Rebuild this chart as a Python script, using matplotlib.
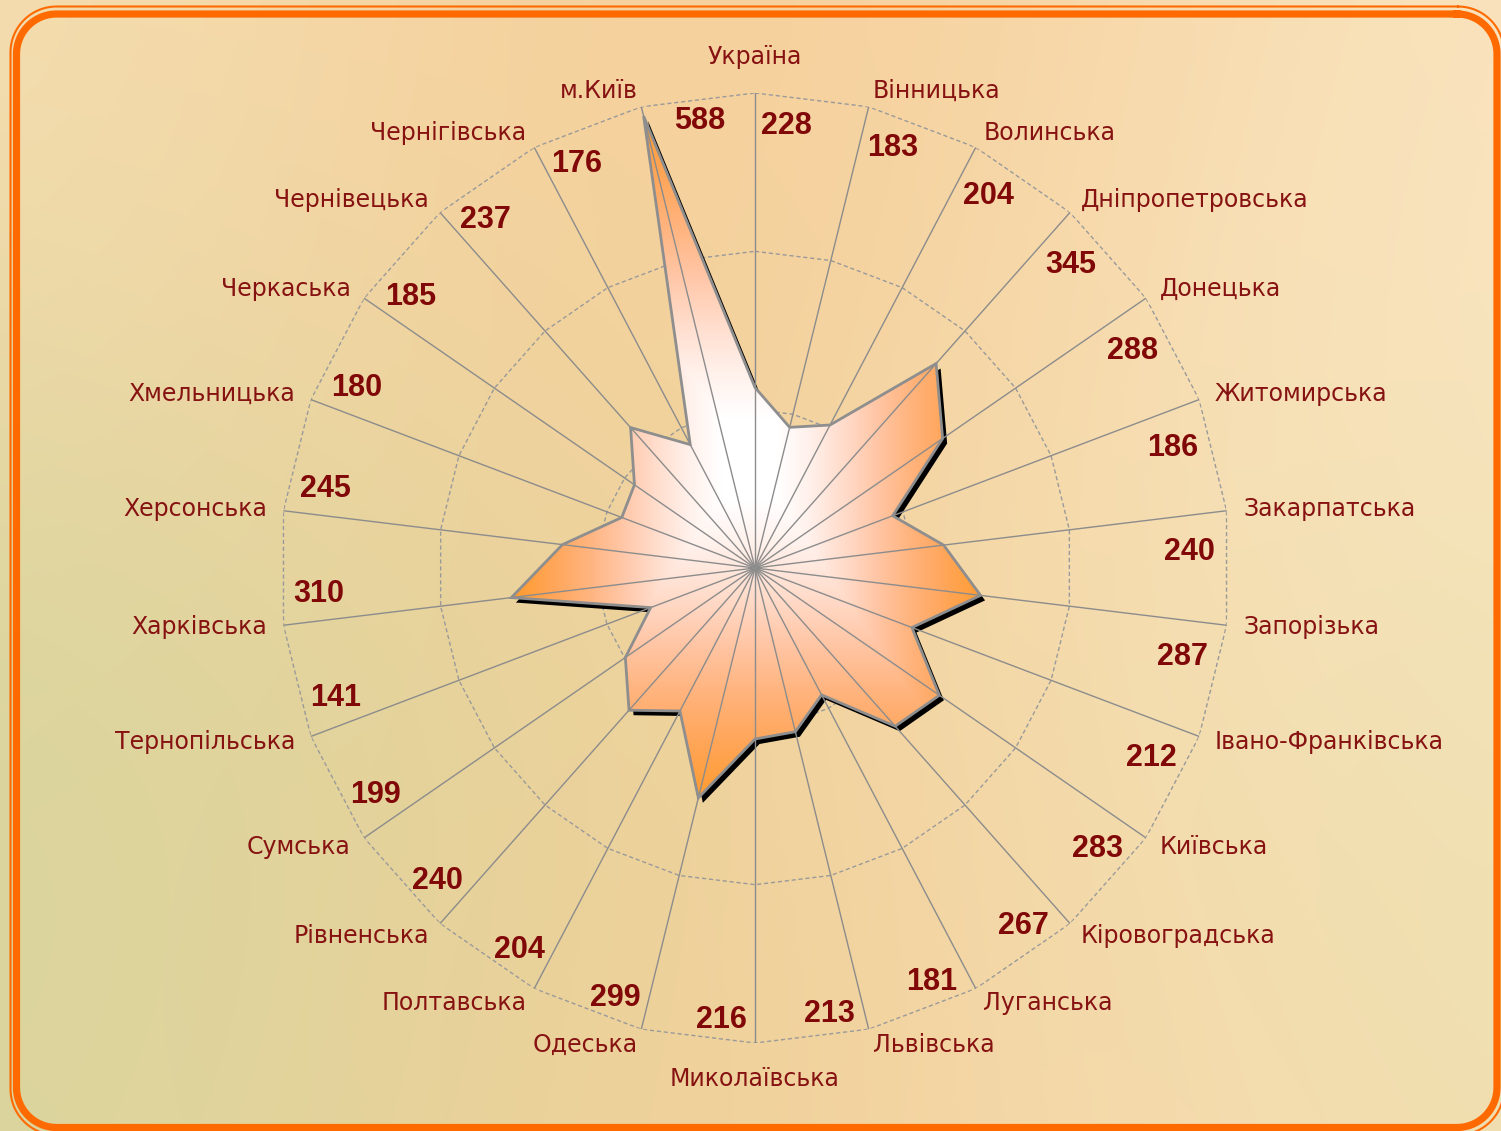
import numpy as np
import matplotlib
matplotlib.use('Agg')
import matplotlib.pyplot as plt
from matplotlib.image import AxesImage
from matplotlib.transforms import ScaledTranslation
from matplotlib.colors import LinearSegmentedColormap

# ---------------- data ----------------
categories = ['Україна', 'Вінницька', 'Волинська', 'Дніпропетровська', 'Донецька',
              'Житомирська', 'Закарпатська', 'Запорізька', 'Івано-Франківська',
              'Київська', 'Кіровоградська', 'Луганська', 'Львівська', 'Миколаївська',
              'Одеська', 'Полтавська', 'Рівненська', 'Сумська', 'Тернопільська',
              'Харківська', 'Херсонська', 'Хмельницька', 'Черкаська', 'Чернівецька',
              'Чернігівська', 'м.Київ']
values = [228, 183, 204, 345, 288, 186, 240, 287, 212, 283, 267, 181, 213,
          216, 299, 204, 240, 199, 141, 310, 245, 180, 185, 237, 176, 588]
r_max = 600
grid_levels = [200, 400, 600]

# ---------------- figure ----------------
W, H = 1501, 1131
fig = plt.figure(figsize=(W / 100, H / 100), dpi=100)

# background gradient
bg = fig.add_axes([0, 0, 1, 1])
yy, xx = np.mgrid[0:H:3, 0:W:3].astype(float)
blobs = [  # (x, y, sigma, rgb, weight)
    (700, 120, 380, (245, 202, 145), 1.2),
    (720, 1080, 330, (243, 203, 145), 1.0),
    (0, 850, 420, (210, 211, 152), 1.4),
    (1450, 300, 380, (251, 233, 200), 1.0),
    (1500, 850, 300, (232, 224, 172), 0.9),
    (100, 80, 300, (250, 226, 185), 0.8),
    (1150, 1100, 250, (249, 222, 182), 0.7),
]
base = np.array((248, 222, 178), float)
acc = np.zeros(xx.shape + (3,)) + base * 0.35
wsum = np.zeros(xx.shape) + 0.35
for bx, by, sg, col, w in blobs:
    g = w * np.exp(-((xx - bx) ** 2 + (yy - by) ** 2) / (2 * sg ** 2))
    acc += g[..., None] * np.array(col, float)
    wsum += g
bgimg = (acc / wsum[..., None]) / 255.0
bg.imshow(bgimg, extent=[0, W, H, 0], origin='upper', interpolation='bilinear', aspect='auto')
bg.set_xlim(0, W)
bg.set_ylim(H, 0)
bg.axis('off')


# double orange rounded border (pixel coords, y from top)
def rounded_rect(x0, y0, x1, y1, rad, k=24):
    a = np.linspace(0, np.pi / 2, k)
    xs, ys = [], []
    corners = [(x1 - rad, y0 + rad, -np.pi / 2), (x1 - rad, y1 - rad, 0.0),
               (x0 + rad, y1 - rad, np.pi / 2), (x0 + rad, y0 + rad, np.pi)]
    for ccx, ccy, a0 in corners:
        xs.extend(ccx + rad * np.cos(a0 + a))
        ys.extend(ccy + rad * np.sin(a0 + a))
    xs.append(xs[0])
    ys.append(ys[0])
    return xs, ys


for (x0, y0, x1, y1, rad, lw) in [(10.5, 6.5, 1504, 1135, 46, 1.5),
                                   (16.5, 14, 1497, 1127.5, 40, 5.2)]:
    xs, ys = rounded_rect(x0, y0, x1, y1, rad)
    bg.plot(xs, ys, color='#FF6A00', lw=lw, solid_joinstyle='round')

# ---------------- radar ----------------
cx, cy, R = 755, 568, 475
ax = fig.add_axes([(cx - R) / W, (H - cy - R) / H, 2 * R / W, 2 * R / H], projection='polar')
ax.set_theta_zero_location('N')
ax.set_theta_direction(-1)
ax.set_facecolor('none')
ax.grid(False)
ax.set_xticks([])
ax.set_yticks([])
ax.spines['polar'].set_visible(False)

n = len(categories)
theta = np.arange(n) * 2 * np.pi / n
tc = np.append(theta, theta[0])
vc = np.append(values, values[0])

# rings
for lev in grid_levels:
    ax.plot(tc, [lev] * (n + 1), ls=(0, (3, 2)), color='#9A9A9A', lw=1.0, zorder=1)
# spokes
for t in theta:
    ax.plot([t, t], [0, r_max], color='#8C8C8C', lw=1.0, zorder=3)

# shadow
shadow_tr = ax.transData + ScaledTranslation(4.5 / 100, -5 / 100, fig.dpi_scale_trans)
ax.fill(tc, vc, color='black', lw=0, zorder=1.5, transform=shadow_tr)

# outline (also used as clip path for gradient)
poly = ax.fill(tc, vc, facecolor='none', edgecolor='#8E8E8E', lw=2.0, zorder=4)[0]

# gradient fill (rectangular "from centre" gradient)
cmap = LinearSegmentedColormap.from_list('fill', [
    (0.0, '#FFFFFF'), (0.12, '#FFFFFF'), (0.26, '#FFF0EA'), (0.40, '#FFDCCB'),
    (0.54, '#FFC6A6'), (0.69, '#FFB37C'), (0.83, '#FFA65A'), (1.0, '#FF9B2E')])
N = 500
px = np.linspace(cx - R, cx + R, N)
py = np.linspace(cy - R, cy + R, N)
PX, PY = np.meshgrid(px, py)
tg = np.maximum(np.abs(PX - 749) / 236.0, np.abs(PY - 459) / 341.0)
rgba = cmap(np.clip(tg, 0, 1))
im = AxesImage(ax, interpolation='bilinear', origin='upper', extent=(0, 1, 0, 1),
               transform=ax.transAxes, zorder=2)
im.set_data(rgba)
ax.add_image(im)
im.set_clip_path(poly)

ax.set_ylim(0, r_max)
ax.set_xlim(0, 2 * np.pi)

# category labels
lab_color = '#861212'
for lab, t in zip(categories, theta):
    s, c = np.sin(t), np.cos(t)
    if abs(s) < 0.05:
        ha, va, rr = 'center', ('bottom' if c > 0 else 'top'), 630
    else:
        ha, va, rr = ('left' if s > 0 else 'right'), 'center', 621
    ax.text(t, rr, lab, ha=ha, va=va, fontsize=17, color=lab_color,
            family='DejaVu Sans', clip_on=False)

# value labels: placed on a slightly elliptical ring just inside the outer grid
val_color = '#800808'
a_px, b_px = 436.0, 448.0          # horizontal / vertical label ring radius (px)
px_per_unit = R / r_max
val_tr = ax.transData + ScaledTranslation(-1 / 100, -5 / 100, fig.dpi_scale_trans)
nudge = {'м.Київ': (21, 11)}  # pixel nudge (right, up) for the crowded label
for lab, v, t in zip(categories, values, theta):
    tl = t + np.deg2rad(4.2)
    r_px = 1.0 / np.sqrt((np.sin(tl) / a_px) ** 2 + (np.cos(tl) / b_px) ** 2)
    dx, dy = nudge.get(lab, (0, 0))
    tr = val_tr + ScaledTranslation(dx / 100, dy / 100, fig.dpi_scale_trans)
    ax.text(tl, r_px / px_per_unit, str(v), ha='center', va='center', fontsize=22,
            fontweight='bold', color=val_color, family='Liberation Sans',
            transform=tr, clip_on=False)

fig.savefig('out.png', dpi=100)
